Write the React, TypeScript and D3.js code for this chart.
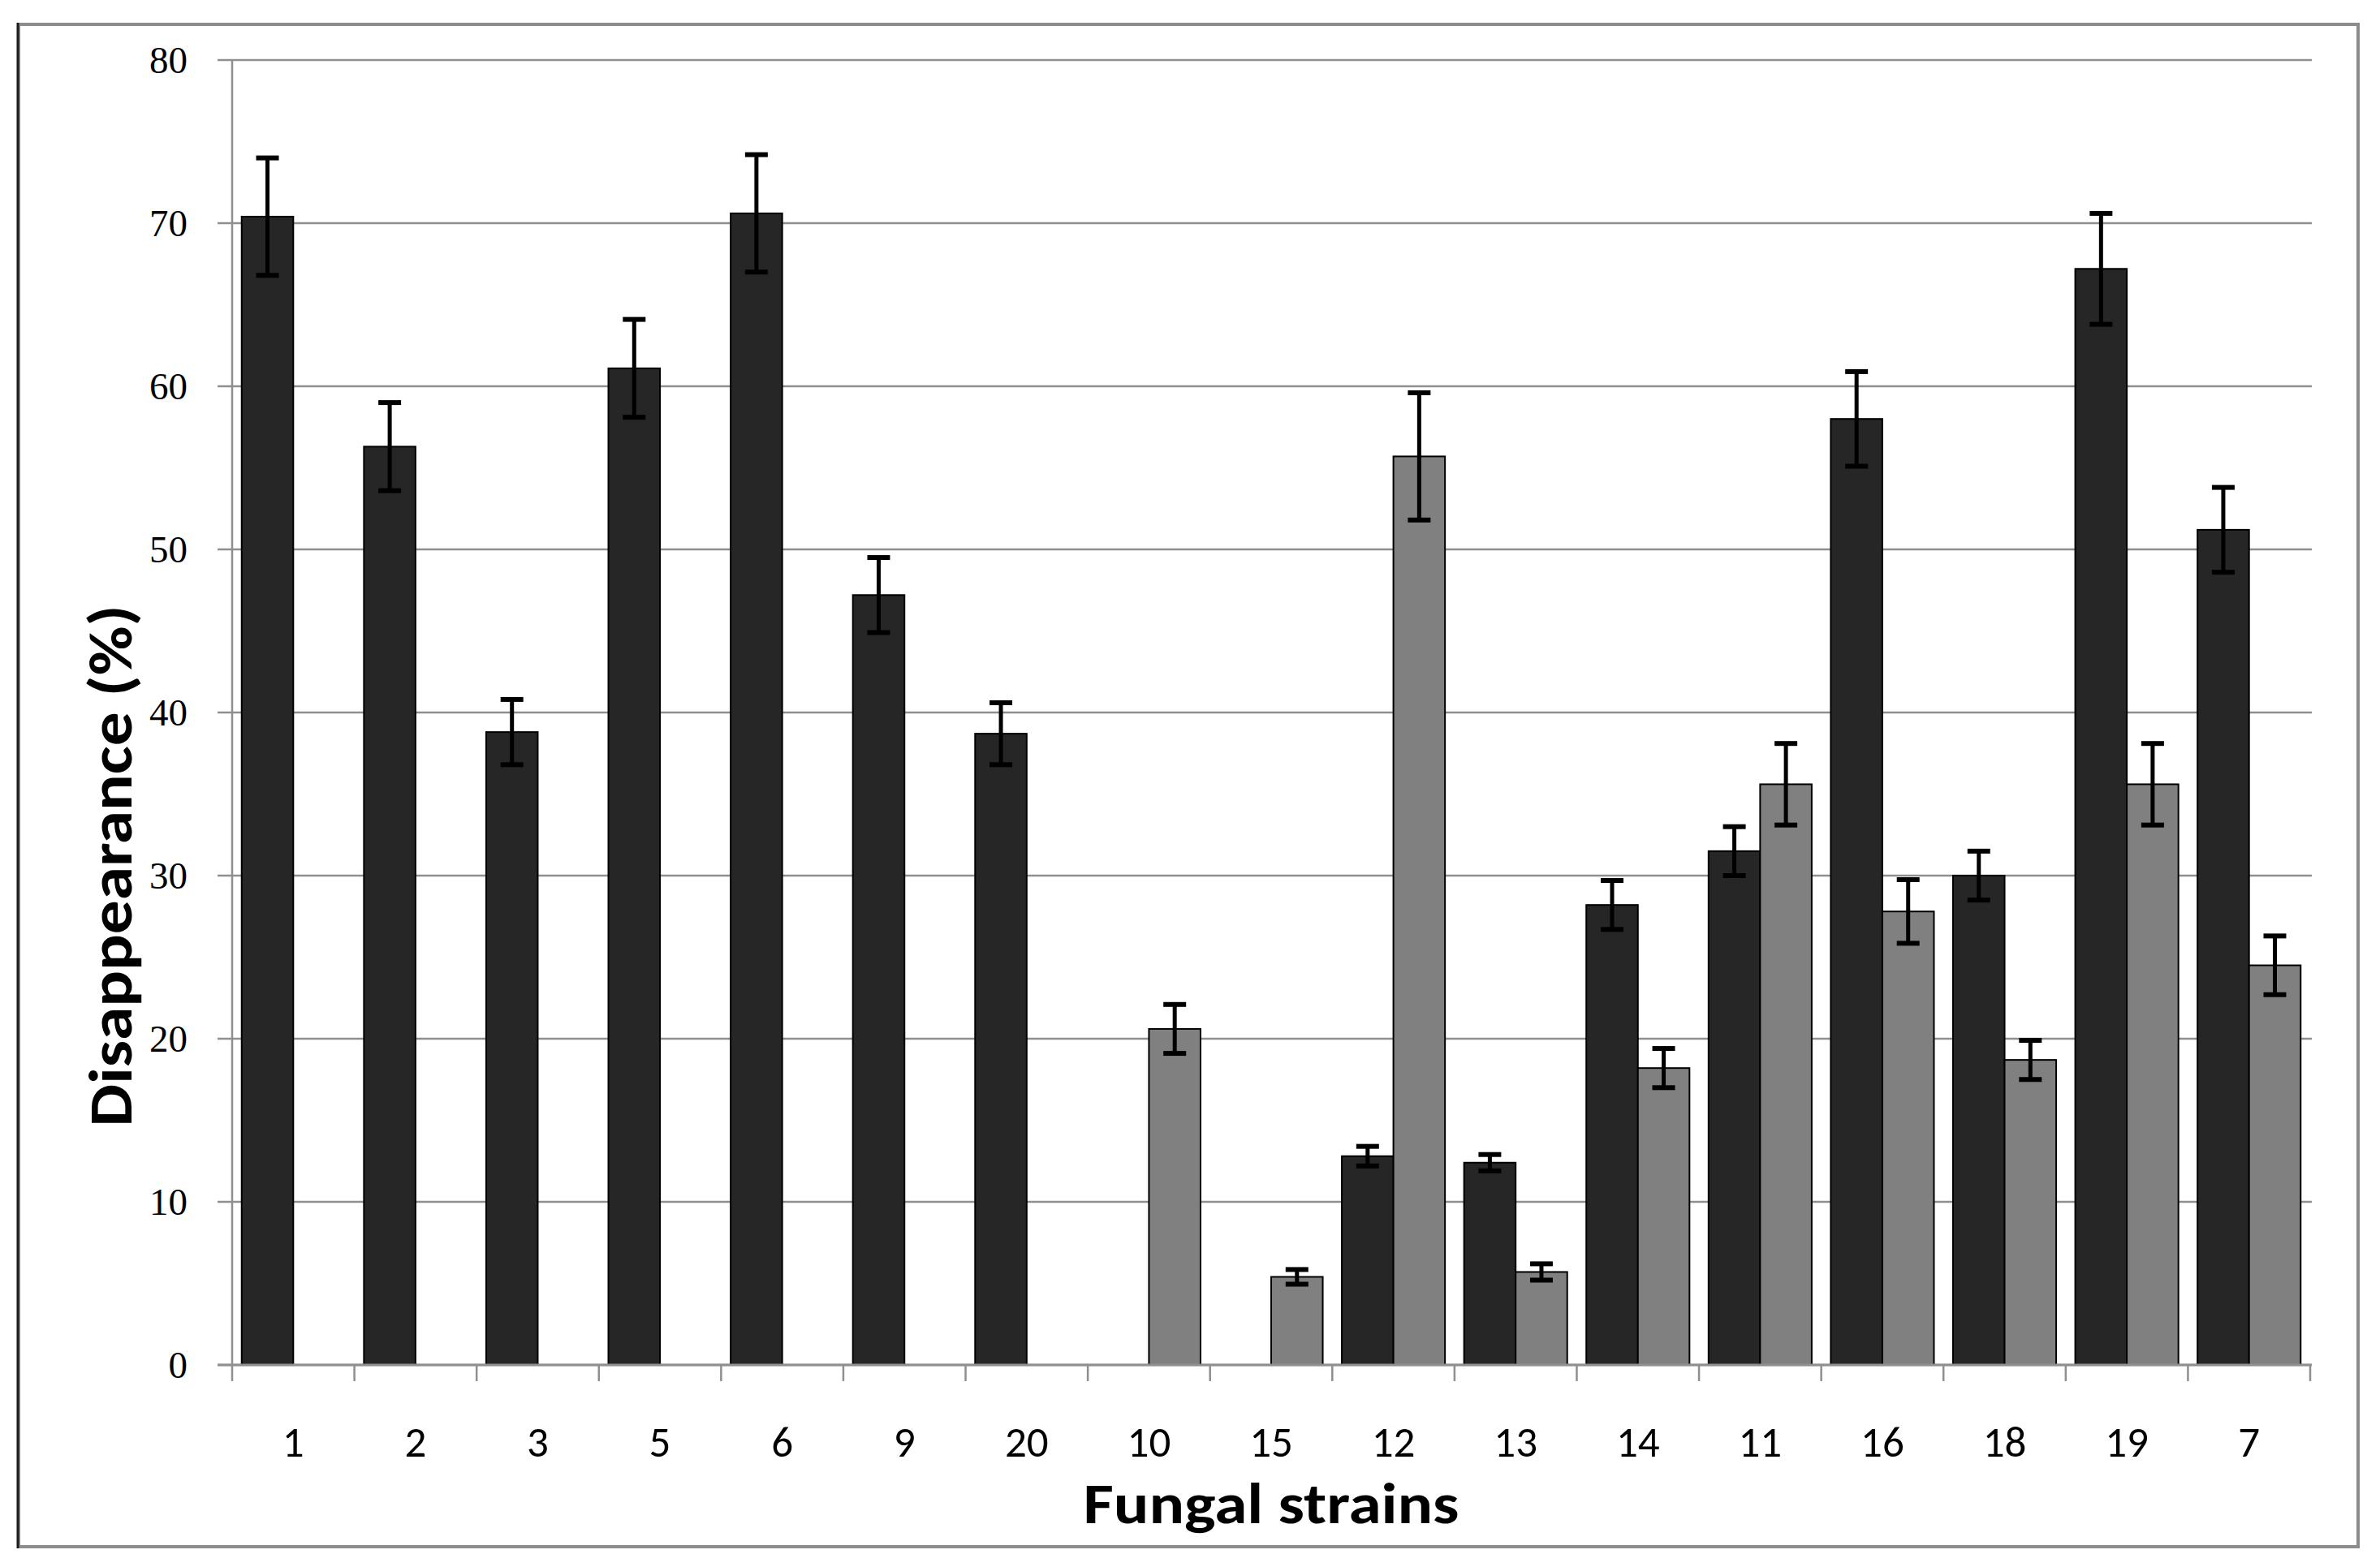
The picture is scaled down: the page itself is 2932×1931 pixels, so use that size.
import React from "react";
import * as d3 from "d3";

const strains = ["1", "2", "3", "5", "6", "9", "20", "10", "15", "12", "13", "14", "11", "16", "18", "19", "7"];
const darkValues: (number | null)[] = [70.4, 56.3, 38.8, 61.1, 70.6, 47.2, 38.7, null, null, 12.8, 12.4, 28.2, 31.5, 58.0, 30.0, 67.2, 51.2];
const darkErrors: (number | null)[] = [3.6, 2.7, 2.0, 3.0, 3.6, 2.3, 1.9, null, null, 0.6, 0.5, 1.5, 1.5, 2.9, 1.5, 3.4, 2.6];
const greyValues: (number | null)[] = [null, null, null, null, null, null, null, 20.6, 5.4, 55.7, 5.7, 18.2, 35.6, 27.8, 18.7, 35.6, 24.5];
const greyErrors: (number | null)[] = [null, null, null, null, null, null, null, 1.5, 0.45, 3.9, 0.5, 1.2, 2.5, 1.95, 1.2, 2.5, 1.8];
const yTicks = [0, 10, 20, 30, 40, 50, 60, 70, 80];
const seriesKeys = ["dark", "grey"];
const seriesFill: Record<string, string> = { dark: "#262626", grey: "#808080" };

const W = 2932;
const H = 1931;
const plotLeft = 286;
const plotRight = 2846;
const plotTop = 74;
const plotBottom = 1682;

export default function App() {
  const x0 = d3.scaleBand<string>().domain(strains).range([plotLeft, plotRight]).paddingInner(0.156).paddingOuter(0.078);
  const x1 = d3.scaleBand<string>().domain(seriesKeys).range([0, x0.bandwidth()]).padding(0);
  const y = d3.scaleLinear().domain([0, 80]).range([plotBottom, plotTop]);
  const step = x0.step();
  const catEdges = d3.range(strains.length + 1).map((i) => plotLeft + i * step);

  const rows = strains.map((s, i) => ({
    strain: s,
    vals: [
      { key: "dark", v: darkValues[i], e: darkErrors[i] },
      { key: "grey", v: greyValues[i], e: greyErrors[i] },
    ],
  }));

  const gridColor = "#8f8f8f";

  return (
    <svg width={W} height={H} style={{ position: "absolute", left: 0, top: 0, background: "#fff" }}>
      <rect x={0} y={0} width={W} height={H} fill="#fff" />
      {/* frame */}
      <rect x={23} y={30} width={2882} height={1876} fill="none" stroke="#8c8c8c" strokeWidth={4} />
      <line x1={22} x2={22} y1={28} y2={1908} stroke="#1a1a1a" strokeWidth={3} />

      {/* gridlines */}
      {yTicks.map((t) => (
        <line key={"g" + t} x1={plotLeft - 18} x2={plotRight + 2} y1={y(t)} y2={y(t)} stroke={gridColor} strokeWidth={2.5} />
      ))}
      {/* y axis */}
      <line x1={plotLeft} x2={plotLeft} y1={plotTop} y2={plotBottom} stroke={gridColor} strokeWidth={2.5} />
      {/* x axis ticks */}
      {catEdges.map((xe, i) => (
        <line key={"t" + i} x1={xe} x2={xe} y1={plotBottom} y2={plotBottom + 20} stroke={gridColor} strokeWidth={2.5} />
      ))}

      {/* bars */}
      {rows.map((r) => (
        <g key={r.strain} transform={`translate(${x0(r.strain)},0)`}>
          {r.vals.map((d) =>
            d.v == null ? null : (
              <rect
                key={d.key}
                x={x1(d.key)}
                y={y(d.v)}
                width={x1.bandwidth()}
                height={y(0) - y(d.v)}
                fill={seriesFill[d.key]}
                stroke="#000"
                strokeWidth={2}
              />
            )
          )}
        </g>
      ))}
      {/* x axis line on top of bars */}
      <line x1={plotLeft - 18} x2={plotRight + 2} y1={plotBottom} y2={plotBottom} stroke={gridColor} strokeWidth={3} />

      {/* error bars */}
      {rows.map((r) => (
        <g key={"e" + r.strain} transform={`translate(${x0(r.strain)},0)`}>
          {r.vals.map((d) => {
            if (d.v == null || d.e == null) return null;
            const cx = (x1(d.key) as number) + x1.bandwidth() / 2;
            const yt = y(d.v + d.e);
            const yb = y(d.v - d.e);
            return (
              <g key={d.key} stroke="#000">
                <line x1={cx} x2={cx} y1={yt} y2={yb} strokeWidth={5} />
                <line x1={cx - 14} x2={cx + 14} y1={yt} y2={yt} strokeWidth={6} />
                <line x1={cx - 14} x2={cx + 14} y1={yb} y2={yb} strokeWidth={6} />
              </g>
            );
          })}
        </g>
      ))}

      {/* y tick labels */}
      {yTicks.map((t) => (
        <text
          key={"yl" + t}
          x={231}
          y={y(t)}
          dy="0.35em"
          textAnchor="end"
          fontFamily="'Liberation Serif', 'DejaVu Serif', serif"
          fontSize={47}
          fill="#000"
        >
          {t}
        </text>
      ))}

      {/* x tick labels */}
      {strains.map((s) => (
        <text
          key={"xl" + s}
          x={(x0(s) as number) + x0.bandwidth() / 2}
          y={1795}
          textAnchor="middle"
          fontFamily="Carlito, Lato, sans-serif"
          fontSize={53}
          fill="#000"
        >
          {s}
        </text>
      ))}

      {/* axis titles */}
      <text
        transform="translate(162,1067) rotate(-90)"
        textAnchor="middle"
        fontFamily="Carlito, Lato, sans-serif"
        fontWeight="bold"
        fontSize={74}
        textLength={643}
        lengthAdjust="spacingAndGlyphs"
        fill="#000"
      >
        Disappearance (%)
      </text>
      <text
        x={1566}
        y={1877}
        textAnchor="middle"
        fontFamily="Carlito, Lato, sans-serif"
        fontWeight="bold"
        fontSize={70}
        textLength={463}
        lengthAdjust="spacingAndGlyphs"
        fill="#000"
      >
        Fungal strains
      </text>
    </svg>
  );
}
